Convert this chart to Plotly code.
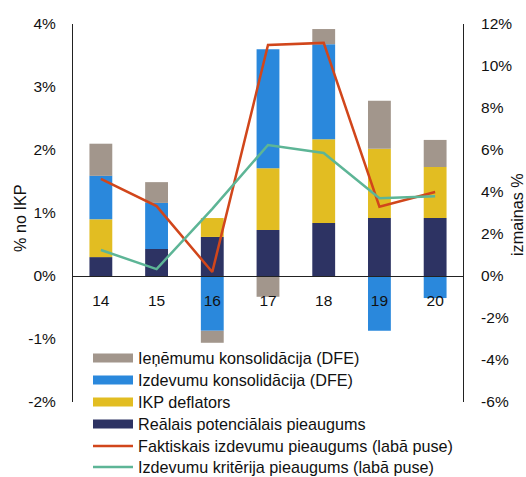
import plotly.graph_objects as go

categories = ["14", "15", "16", "17", "18", "19", "20"]

# stacked bars (% of GDP, left axis)
real_potential = [0.30, 0.43, 0.62, 0.73, 0.84, 0.92, 0.92]
gdp_deflator = [0.60, 0.00, 0.30, 0.98, 1.33, 1.10, 0.81]
expenditure_cons = [0.69, 0.73, -0.87, 1.89, 1.51, -0.87, -0.35]
revenue_cons = [0.51, 0.33, -0.19, -0.33, 0.24, 0.76, 0.43]

# lines (% change, right axis)
actual_growth = [4.62, 3.33, 0.19, 11.0, 11.1, 3.3, 4.0]
criterion_growth = [1.24, 0.33, 3.2, 6.24, 5.86, 3.7, 3.8]

left_ticks = [-2, -1, 0, 1, 2, 3, 4]
left_ticktext = ["-2%", "-1%", "0%", "1%", "2%", "3%", "4%"]
right_ticks = [-6, -4, -2, 0, 2, 4, 6, 8, 10, 12]
right_ticktext = ["-6%", "-4%", "-2%", "0%", "2%", "4%", "6%", "8%", "10%", "12%"]

names = [
    "Ieņēmumu konsolidācija (DFE)",
    "Izdevumu konsolidācija (DFE)",
    "IKP deflators",
    "Reālais potenciālais pieaugums",
    "Faktiskais izdevumu pieaugums (labā puse)",
    "Izdevumu kritērija pieaugums (labā puse)",
]

C_GREY = "#A2968C"
C_BLUE = "#2A88DC"
C_YELLOW = "#E2BD22"
C_NAVY = "#2D3363"
C_ORANGE = "#D1461B"
C_GREEN = "#5DB596"

FONT = "Liberation Sans, Arial, sans-serif"
FS = 15.5
FS_LEG = 16.2

W, H = 526, 477
L, R, T, B = 73, 63, 24, 75
PW, PH = W - L - R, H - T - B

fig = go.Figure()
for vals, col, nm in [
    (real_potential, C_NAVY, names[3]),
    (gdp_deflator, C_YELLOW, names[2]),
    (expenditure_cons, C_BLUE, names[1]),
    (revenue_cons, C_GREY, names[0]),
]:
    fig.add_trace(go.Bar(x=categories, y=vals, name=nm, marker=dict(color=col, line=dict(width=0)),
                         width=0.41, showlegend=False, yaxis="y"))

fig.add_trace(go.Scatter(x=categories, y=actual_growth, name=names[4], mode="lines",
                         line=dict(color=C_ORANGE, width=2.5), yaxis="y2", showlegend=False))
fig.add_trace(go.Scatter(x=categories, y=criterion_growth, name=names[5], mode="lines",
                         line=dict(color=C_GREEN, width=2.5), yaxis="y2", showlegend=False))

# manual legend
def px2x(px):
    return (px - L) / PW

def py2y(py):
    return (H - B - py) / PH

legend_rows = [358, 380, 402, 424, 446, 467]
legend_cols = [C_GREY, C_BLUE, C_YELLOW, C_NAVY, C_ORANGE, C_GREEN]
shapes = []
annotations = []
for i, (ry, col, nm) in enumerate(zip(legend_rows, legend_cols, names)):
    if i < 4:
        shapes.append(dict(type="rect", xref="paper", yref="paper",
                           x0=px2x(93), x1=px2x(133), y0=py2y(ry + 4.5), y1=py2y(ry - 4.5),
                           fillcolor=col, line=dict(width=0)))
    else:
        shapes.append(dict(type="line", xref="paper", yref="paper",
                           x0=px2x(93), x1=px2x(133), y0=py2y(ry), y1=py2y(ry),
                           line=dict(color=col, width=2.5)))
    annotations.append(dict(text=nm, xref="paper", yref="paper", x=px2x(136), y=py2y(ry),
                            xanchor="left", yanchor="middle", showarrow=False,
                            font=dict(family=FONT, size=FS_LEG, color="#111")))

annotations.append(dict(text="% no IKP", xref="paper", yref="paper", x=px2x(20), y=py2y(218),
                        textangle=-90, showarrow=False, xanchor="center", yanchor="middle",
                        font=dict(family=FONT, size=FS_LEG, color="#111")))
annotations.append(dict(text="izmainas %", xref="paper", yref="paper", x=px2x(517), y=py2y(215),
                        textangle=-90, showarrow=False, xanchor="center", yanchor="middle",
                        font=dict(family=FONT, size=FS_LEG, color="#111")))

fig.update_layout(
    width=W, height=H,
    margin=dict(l=L, r=R, t=T, b=B, pad=0),
    paper_bgcolor="white", plot_bgcolor="white",
    barmode="relative",
    showlegend=False,
    font=dict(family=FONT, size=FS, color="#111"),
    xaxis=dict(type="category", anchor="free", position=2 / 6, showline=True, linecolor="#222",
               linewidth=1, showgrid=False, zeroline=False, ticks="", ticklabelstandoff=10,
               tickfont=dict(size=FS, color="#111"), range=[-0.5, 6.5]),
    yaxis=dict(range=[-2, 4], tickvals=left_ticks, ticktext=left_ticktext, showgrid=False,
               zeroline=False, showline=True, linecolor="#222", linewidth=1, ticks="",
               ticklabelstandoff=13, tickfont=dict(size=FS, color="#111")),
    yaxis2=dict(range=[-6, 12], tickvals=right_ticks, ticktext=right_ticktext, overlaying="y",
                side="right", showgrid=False, zeroline=False, showline=True, linecolor="#222",
                linewidth=1, ticks="", ticklabelstandoff=14, tickfont=dict(size=FS, color="#111")),
    shapes=shapes,
    annotations=annotations,
)

fig.write_html("out.html", config={"displayModeBar": False},
               post_script="document.body.style.margin='0';document.body.style.padding='0';")
